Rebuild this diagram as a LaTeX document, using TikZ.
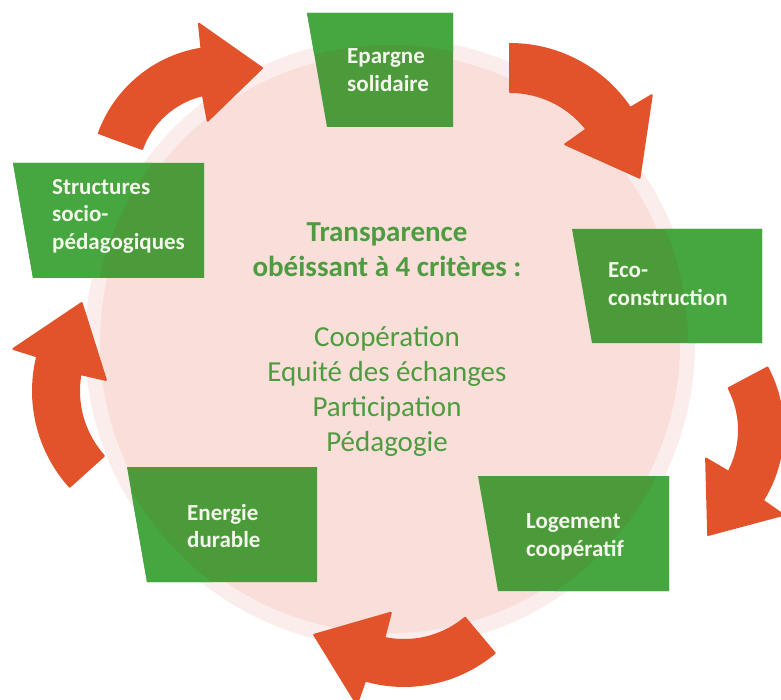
\documentclass[tikz,border=0pt]{standalone}
\usepackage{fontspec}
\setmainfont{Carlito}

\definecolor{arrowred}{HTML}{E2532B}
\definecolor{boxdark}{HTML}{4B9B3B}
\definecolor{boxlight}{HTML}{46A63F}
\definecolor{boxtext}{HTML}{F4F8EC}
\definecolor{pinkin}{HTML}{F9DEDA}
\definecolor{pinkring}{HTML}{FBEDEB}
\definecolor{textgreen}{HTML}{4E9C3F}

% curved arrow: centre x, centre y, inner radius, outer radius, tail angle, head angle
\newcommand{\cyclearrow}[6]{%
\filldraw[fill=arrowred,draw=arrowred,line width=2pt,line join=round]
  plot[domain=#5:#6+2,samples=30] ({#1+#4*cos(\x)},{#2+#4*sin(\x)})
  -- ({#1+(#4+25)*cos(#6+2.5)},{#2+(#4+25)*sin(#6+2.5)})
  -- ({#1+((#3+#4)/2+9)*cos(#6+31)},{#2+((#3+#4)/2+9)*sin(#6+31)})
  -- ({#1+(#3-26)*cos(#6-3)},{#2+(#3-26)*sin(#6-3)})
  -- plot[domain=#6-2:#5,samples=30] ({#1+#3*cos(\x)},{#2+#3*sin(\x)})
  -- cycle;}

% green box: left x (top), right x, top y, bottom y
\newcommand{\greenbox}[4]{%
\fill[boxdark] (#1,#3) -- (#2,#3) -- (#2,#4) -- (#1+20,#4) -- cycle;
\begin{scope}
\clip (#1,#3) -- (#2,#3) -- (#2,#4) -- (#1+20,#4) -- cycle;
\fill[boxlight,even odd rule] (0,0) rectangle (781,700) (390,343) circle[radius=298];
\end{scope}}

\begin{document}
\begin{tikzpicture}[x=1pt,y=-1pt,
  boxlabel/.style={anchor=west,align=left,inner sep=0pt,text=boxtext,
    font=\fontsize{23}{27.5}\selectfont\bfseries},
  centretext/.style={align=center,inner sep=0pt,text=textgreen}]

\useasboundingbox (0,0) rectangle (781,700);
\clip (0,0) rectangle (781,700);

% background disc
\fill[pinkring] (390,343) circle[radius=305];
\fill[pinkin] (390,343) circle[radius=290];

% arrows
\cyclearrow{222}{178}{85}{131}{200}{259}
\cyclearrow{510}{189}{97}{145}{270}{324}
\cyclearrow{650}{430}{89}{133}{-28}{30}
\cyclearrow{404}{545}{95}{141}{50}{104}
\cyclearrow{176}{391}{97}{143}{138}{192}

% boxes
\greenbox{307}{453}{13}{127}
\greenbox{13}{204}{163}{278}
\greenbox{572}{762}{229}{343}
\greenbox{127}{317}{467}{582}
\greenbox{478}{669}{476}{591}

\node[boxlabel] (epargne) at (347,70) {Epargne\\solidaire};
\node[boxlabel] (structures) at (52,216) {Structures\\socio-\\pédagogiques};
\node[boxlabel] (eco) at (608,284) {Eco-\\construction};
\node[boxlabel] (energie) at (187,526) {Energie\\durable};
\node[boxlabel] (logement) at (526,537) {Logement\\coopératif};

% centre
\node[centretext,font=\fontsize{29}{35}\selectfont\bfseries] (title) at (387,250)
  {Transparence\\obéissant à 4 critères :};
\node[centretext,font=\fontsize{29}{35.3}\selectfont] (criteria) at (387,391.5)
  {Coopération\\Equité des échanges\\Participation\\Pédagogie};

\end{tikzpicture}
\end{document}
